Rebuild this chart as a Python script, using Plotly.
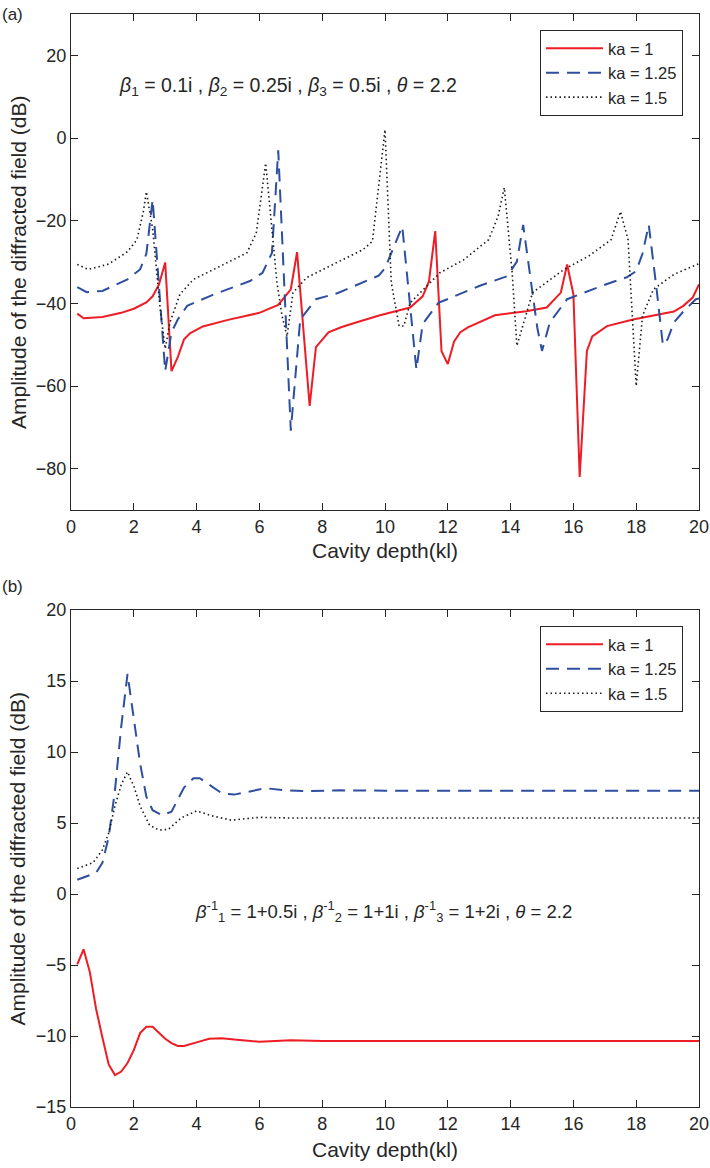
import plotly.graph_objects as go

# ---------------- data: panel (a) ----------------
a_red_x = [0.2, 0.4, 1.0, 1.6, 2.0, 2.4, 2.6, 2.8, 3.0, 3.2, 3.4, 3.6, 3.8, 4.2, 5.0, 6.0, 6.6,
           7.0, 7.2, 7.6, 7.8, 8.2, 8.6, 9.0, 9.84, 10.25, 10.8, 11.2, 11.4, 11.6, 11.8, 12.0,
           12.2, 12.4, 12.64, 13.5, 14.5, 15.15, 15.6, 15.8, 16.0, 16.2, 16.43, 16.6, 17.07,
           17.9, 19.2, 19.5, 19.8, 20.0]
a_red_y = [-42.5, -43.6, -43.3, -42.3, -41.3, -39.8, -38.3, -35.5, -30.1, -56.4, -53.0, -48.7,
           -47.2, -45.6, -44.0, -42.3, -40.4, -36.6, -27.6, -64.8, -50.6, -47.0, -45.8, -44.8,
           -42.9, -42.1, -41.0, -38.3, -34.7, -22.5, -51.6, -54.7, -49.2, -47.0, -45.8, -42.9,
           -41.9, -41.0, -37.4, -30.6, -37.8, -82.0, -51.5, -48.0, -45.5, -43.9, -42.0, -40.6,
           -38.6, -35.4]

a_blue_x = [0.2, 0.5, 1.0, 1.8, 2.2, 2.4, 2.6, 3.0, 3.2, 3.4, 3.7, 4.5, 5.7, 6.1, 6.4, 6.6, 7.0,
            7.3, 7.8, 8.5, 9.8, 10.0, 10.3, 10.55, 11.0, 11.2, 11.7, 13.0, 13.9, 14.2, 14.4,
            14.85, 15.0, 15.25, 15.8, 17.0, 17.7, 18.0, 18.2, 18.4, 18.65, 18.85, 19.0, 19.2,
            19.5, 19.9, 20.0]
a_blue_y = [-36.1, -37.3, -37.0, -34.2, -31.8, -28.0, -14.9, -56.4, -47.0, -43.9, -40.6, -38.0,
            -34.6, -32.6, -27.8, -3.0, -70.8, -43.9, -39.0, -37.5, -33.3, -31.5, -26.0, -21.4,
            -56.0, -45.0, -39.9, -35.8, -33.4, -29.9, -21.0, -45.9, -51.5, -44.6, -39.0, -35.5,
            -33.7, -32.2, -28.0, -21.0, -36.6, -50.1, -48.7, -44.6, -42.0, -39.0, -38.8]

a_dot_x = [0.2, 0.55, 1.2, 1.8, 2.1, 2.3, 2.4, 2.6, 2.83, 3.0, 3.15, 3.47, 3.9, 4.6, 5.6, 5.9,
           6.2, 6.43, 6.56, 6.72, 6.88, 7.07, 7.5, 8.5, 9.3, 9.6, 9.8, 10.0, 10.2, 10.45, 10.6,
           10.8, 11.75, 12.5, 13.3, 13.6, 13.8, 14.05, 14.2, 14.4, 14.7, 15.7, 16.5, 17.2, 17.5,
           17.74, 17.87, 18.0, 18.2, 18.55, 19.2, 19.9, 20.0]
a_dot_y = [-30.6, -31.8, -30.5, -27.5, -24.6, -18.0, -13.0, -22.0, -40.6, -51.0, -44.6, -37.8,
           -34.2, -31.5, -27.8, -23.0, -6.1, -24.6, -35.0, -43.0, -48.0, -37.4, -33.8, -30.0,
           -27.0, -25.0, -12.0, 2.0, -35.0, -45.5, -45.5, -39.9, -32.6, -29.5, -24.6, -19.0,
           -12.0, -32.6, -50.3, -45.0, -37.4, -31.8, -28.5, -24.6, -17.8, -24.6, -43.0, -60.0,
           -43.0, -36.6, -33.0, -30.6, -30.4]

# ---------------- data: panel (b) ----------------
b_red_x = [0.2, 0.4, 0.6, 0.8, 1.0, 1.2, 1.4, 1.6, 1.8, 2.0, 2.2, 2.4, 2.6, 2.8, 3.0, 3.2, 3.4,
           3.6, 3.8, 4.0, 4.4, 4.8, 5.2, 5.6, 6.0, 7.0, 8.0, 10.0, 14.0, 20.0]
b_red_y = [-4.95, -3.9, -5.5, -8.1, -10.1, -12.0, -12.75, -12.5, -11.9, -11.0, -9.8, -9.35,
           -9.35, -9.8, -10.2, -10.5, -10.7, -10.7, -10.6, -10.45, -10.2, -10.15, -10.25,
           -10.35, -10.4, -10.3, -10.35, -10.35, -10.35, -10.35]

b_blue_x = [0.2, 0.8, 1.0, 1.2, 1.4, 1.6, 1.8, 2.0, 2.2, 2.4, 2.6, 2.9, 3.2, 3.6, 3.9, 4.1, 4.4,
            4.8, 5.2, 5.7, 6.2, 6.8, 7.5, 8.6, 10.0, 20.0]
b_blue_y = [1.0, 1.5, 2.2, 4.0, 7.3, 11.8, 15.5, 12.3, 9.2, 6.85, 5.9, 5.55, 5.8, 7.5, 8.15,
            8.15, 7.7, 7.1, 7.0, 7.2, 7.45, 7.3, 7.25, 7.3, 7.28, 7.28]

b_dot_x = [0.2, 0.7, 1.0, 1.2, 1.4, 1.6, 1.8, 2.0, 2.2, 2.5, 2.8, 3.1, 3.5, 4.0, 4.5, 5.1, 6.0,
           7.0, 20.0]
b_dot_y = [1.8, 2.2, 3.1, 4.3, 6.2, 7.7, 8.6, 7.6, 6.2, 4.85, 4.5, 4.55, 5.35, 5.85, 5.5, 5.2,
           5.4, 5.35, 5.35]

series_names = ["ka = 1", "ka = 1.25", "ka = 1.5"]
x_ticks = list(range(0, 21, 2))
a_y_ticks = [-80, -60, -40, -20, 0, 20]
b_y_ticks = [-15, -10, -5, 0, 5, 10, 15, 20]

RED = "#ee1c25"
BLUE = "#2e4f9f"
BLACK = "#1a1a1a"
AX = "#262626"
FONT = "Liberation Sans, Arial, Helvetica, sans-serif"

styles = [
    dict(color=RED, width=2, dash="solid"),
    dict(color=BLUE, width=2, dash="13px,8px"),
    dict(color=BLACK, width=1.6, dash="1.5px,3px"),
]

fig = go.Figure()
for (xs, ys), st, nm in zip([(a_red_x, a_red_y), (a_blue_x, a_blue_y), (a_dot_x, a_dot_y)],
                            styles, series_names):
    fig.add_trace(go.Scatter(x=xs, y=ys, mode="lines", name=nm, line=st,
                             xaxis="x", yaxis="y", legend="legend"))
for (xs, ys), st, nm in zip([(b_red_x, b_red_y), (b_blue_x, b_blue_y), (b_dot_x, b_dot_y)],
                            styles, series_names):
    fig.add_trace(go.Scatter(x=xs, y=ys, mode="lines", name=nm, line=st,
                             xaxis="x2", yaxis="y2", legend="legend2"))

axis_common = dict(showline=True, linecolor=AX, linewidth=1, mirror="ticks", ticks="inside",
                   ticklen=7, tickwidth=1, tickcolor=AX, showgrid=False, zeroline=False,
                   automargin=False,
                   tickfont=dict(family=FONT, size=18, color=AX))

TOP_DOM = [0.5462, 1.0]
BOT_DOM = [0.0, 0.4547]

legend_common = dict(xanchor="right", yanchor="top", bgcolor="white",
                     bordercolor=AX, borderwidth=1, font=dict(family=FONT, size=16.5, color=AX),
                     itemwidth=57, tracegroupgap=0)

fig.update_layout(
    width=710, height=1168,
    margin=dict(l=71, r=11, t=14, b=61),
    plot_bgcolor="white", paper_bgcolor="white",
    font=dict(family=FONT, color=AX),
    xaxis=dict(domain=[0, 1], range=[0, 20], tickvals=x_ticks, anchor="y", **axis_common),
    yaxis=dict(domain=TOP_DOM, range=[-90, 30], tickvals=a_y_ticks, anchor="x", **axis_common),
    xaxis2=dict(domain=[0, 1], range=[0, 20], tickvals=x_ticks, anchor="y2", **axis_common),
    yaxis2=dict(domain=BOT_DOM, range=[-15, 20], tickvals=b_y_ticks, anchor="x2", **axis_common),
    legend=dict(x=0.9745, y=0.9854, **legend_common),
    legend2=dict(x=0.9745, y=0.44, **legend_common),
    showlegend=True,
)

fig.add_annotation(xref="paper", yref="paper", x=0.0732, y=0.934, xanchor="left", yanchor="middle",
                   showarrow=False, font=dict(family=FONT, size=19.5, color=AX),
                   text="<i>β</i><sub>1</sub> = 0.1i , <i>β</i><sub>2</sub> = 0.25i , "
                        "<i>β</i><sub>3</sub> = 0.5i , <i>θ</i> = 2.2")
fig.add_annotation(xref="paper", yref="paper", x=0.194, y=0.179, xanchor="left", yanchor="middle",
                   showarrow=False, font=dict(family=FONT, size=18.5, color=AX),
                   text="<i>β</i><sup>-1</sup><sub>1</sub> = 1+0.5i , <i>β</i><sup>-1</sup><sub>2</sub> = 1+1i , "
                        "<i>β</i><sup>-1</sup><sub>3</sub> = 1+2i , <i>θ</i> = 2.2")
# panel labels
fig.add_annotation(xref="paper", yref="paper", x=-0.113, y=0.9995, xanchor="left", yanchor="middle",
                   showarrow=False, font=dict(family=FONT, size=17, color=AX), text="(a)")
fig.add_annotation(xref="paper", yref="paper", x=-0.113, y=0.476, xanchor="left", yanchor="middle",
                   showarrow=False, font=dict(family=FONT, size=17, color=AX), text="(b)")
# x-axis titles
for yc in [0.5087, -0.0393]:
    fig.add_annotation(xref="paper", yref="paper", x=0.5, y=yc, xanchor="center", yanchor="middle",
                       showarrow=False, font=dict(family=FONT, size=21, color=AX),
                       text="Cavity depth(kl)")
# y-axis titles
for yc in [(TOP_DOM[0] + TOP_DOM[1]) / 2, (BOT_DOM[0] + BOT_DOM[1]) / 2]:
    fig.add_annotation(xref="paper", yref="paper", x=-0.0844, y=yc, xanchor="center", yanchor="middle",
                       showarrow=False, textangle=-90, font=dict(family=FONT, size=21, color=AX),
                       text="Amplitude of the diffracted field (dB)")

fig.write_html("out.html",
               config={"displayModeBar": False},
               post_script="document.body.style.margin='0px';document.body.style.overflow='hidden';")
